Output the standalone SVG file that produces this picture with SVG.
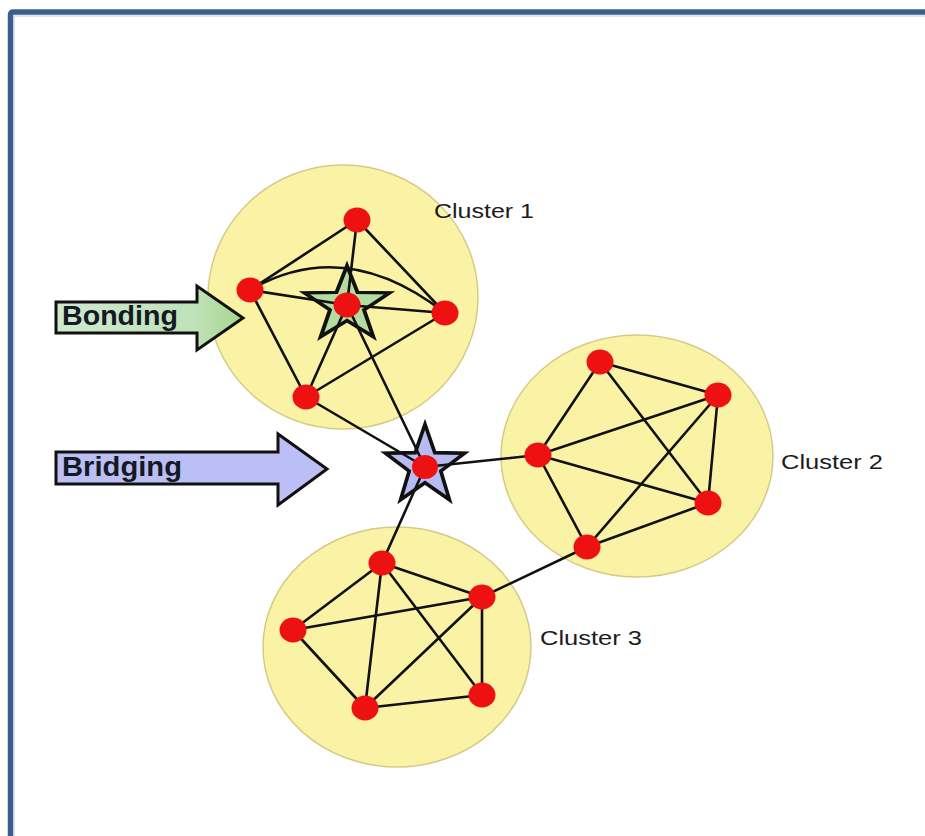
<svg xmlns="http://www.w3.org/2000/svg" xmlns:xlink="http://www.w3.org/1999/xlink" width="925" height="836" viewBox="0 0 925 836">
<style>
.cl{fill:#faf3a6;stroke:#d4cc86;stroke-width:1.5}
.e{stroke:#111;stroke-width:2.6;fill:none;stroke-linecap:round}
.n{fill:#ee1111}
.lbl{font-family:"Liberation Sans",Arial,sans-serif;font-size:21px;fill:#1c1c1c}
.big{font-family:"Liberation Sans",Arial,sans-serif;font-size:27px;font-weight:bold;fill:#141a24}
.star{stroke:#111;stroke-width:3.5;stroke-linejoin:miter}
.arr{stroke:#111;stroke-width:3;stroke-linejoin:miter}
</style>
<defs>
<linearGradient id="gB" x1="0" y1="0" x2="1" y2="0">
<stop offset="0" stop-color="#cfe9cf"/>
<stop offset="0.75" stop-color="#bfe2b8"/>
<stop offset="1" stop-color="#a6d58c"/>
</linearGradient>
<polygon id="starShape" points="0,-40 9.4,-12.9 38,-12.4 15.2,4.9 23.5,32.4 0,16 -23.5,32.4 -15.2,4.9 -38,-12.4 -9.4,-12.9"/>
</defs>
<rect width="925" height="836" fill="#ffffff"/>
<g id="frame">
<path d="M10.5,836 V15 Q10.5,12 13.5,12 H925" fill="none" stroke="#3a5f8f" stroke-width="5.5"/>
<path d="M14,836 V16 H925" fill="none" stroke="#bccbdd" stroke-width="1"/>
</g>

<g id="cluster1"><ellipse class="cl" cx="343" cy="297" rx="135" ry="132"/></g>
<g id="cluster2"><ellipse class="cl" cx="637" cy="456" rx="136" ry="121"/></g>
<g id="cluster3"><ellipse class="cl" cx="397" cy="647" rx="134" ry="120"/></g>

<g id="bonding-arrow">
<polygon class="arr" fill="url(#gB)" points="56,302 197,302 197,286 243,318 197,350 197,333 56,333"/>
<text class="big" x="62" y="325" textLength="116" lengthAdjust="spacingAndGlyphs">Bonding</text>
</g>
<g id="bridging-arrow">
<polygon class="arr" fill="#bcbff5" points="56,452 278,452 278,434 327,469 278,505 278,484 56,484"/>
<text class="big" x="62" y="476" textLength="120" lengthAdjust="spacingAndGlyphs">Bridging</text>
</g>

<g id="bonding-star"><use xlink:href="#starShape" href="#starShape" class="star" fill="#b4dca0" transform="translate(347,305) scale(1.12,0.98)" style="vector-effect:non-scaling-stroke"/></g>
<g id="bridging-star"><use xlink:href="#starShape" href="#starShape" class="star" fill="#b8bbf2" transform="translate(425,466) scale(1.04,1.04)" style="vector-effect:non-scaling-stroke"/></g>

<g id="connectors">
<!-- cluster 1 -->
<line class="e" x1="357" y1="220" x2="250" y2="290"/>
<line class="e" x1="357" y1="220" x2="347" y2="305"/>
<line class="e" x1="357" y1="220" x2="445" y2="313"/>
<path class="e" d="M250,290 Q345,235 445,313"/>
<line class="e" x1="250" y1="290" x2="347" y2="305"/>
<line class="e" x1="347" y1="305" x2="445" y2="313"/>
<line class="e" x1="250" y1="290" x2="306" y2="397"/>
<line class="e" x1="306" y1="397" x2="347" y2="305"/>
<line class="e" x1="306" y1="397" x2="445" y2="313"/>
<!-- bridges -->
<line class="e" x1="347" y1="305" x2="425" y2="467" stroke-width="2.2"/>
<line class="e" x1="306" y1="397" x2="425" y2="467" stroke-width="2.2"/>
<line class="e" x1="425" y1="467" x2="538" y2="455" stroke-width="2.2"/>
<line class="e" x1="425" y1="467" x2="382" y2="563" stroke-width="2.2"/>
<line class="e" x1="482" y1="597" x2="587" y2="547" stroke-width="2.2"/>
<!-- cluster 2 -->
<line class="e" x1="600" y1="362" x2="538" y2="455"/>
<line class="e" x1="600" y1="362" x2="718" y2="395"/>
<line class="e" x1="600" y1="362" x2="708" y2="503"/>
<line class="e" x1="538" y1="455" x2="718" y2="395"/>
<line class="e" x1="538" y1="455" x2="708" y2="503"/>
<line class="e" x1="538" y1="455" x2="587" y2="547"/>
<line class="e" x1="718" y1="395" x2="708" y2="503"/>
<line class="e" x1="718" y1="395" x2="587" y2="547"/>
<line class="e" x1="708" y1="503" x2="587" y2="547"/>
<!-- cluster 3 -->
<line class="e" x1="382" y1="563" x2="293" y2="630"/>
<line class="e" x1="382" y1="563" x2="482" y2="597"/>
<line class="e" x1="382" y1="563" x2="365" y2="708"/>
<line class="e" x1="382" y1="563" x2="482" y2="695"/>
<line class="e" x1="293" y1="630" x2="482" y2="597"/>
<line class="e" x1="293" y1="630" x2="365" y2="708"/>
<line class="e" x1="482" y1="597" x2="365" y2="708"/>
<line class="e" x1="482" y1="597" x2="482" y2="695"/>
<line class="e" x1="365" y1="708" x2="482" y2="695"/>
</g>

<g id="c1-top"><ellipse class="n" cx="357" cy="220" rx="13.5" ry="12.5"/></g>
<g id="c1-left"><ellipse class="n" cx="250" cy="290" rx="13.5" ry="12.5"/></g>
<g id="c1-center"><ellipse class="n" cx="347" cy="305" rx="13.5" ry="12.5"/></g>
<g id="c1-right"><ellipse class="n" cx="445" cy="313" rx="13.5" ry="12.5"/></g>
<g id="c1-bottom"><ellipse class="n" cx="306" cy="397" rx="13.5" ry="12.5"/></g>
<g id="bridge"><ellipse class="n" cx="425" cy="467" rx="13" ry="12"/></g>
<g id="c2-top"><ellipse class="n" cx="600" cy="362" rx="13.5" ry="12.5"/></g>
<g id="c2-right-top"><ellipse class="n" cx="718" cy="395" rx="13.5" ry="12.5"/></g>
<g id="c2-left"><ellipse class="n" cx="538" cy="455" rx="13.5" ry="12.5"/></g>
<g id="c2-right-bottom"><ellipse class="n" cx="708" cy="503" rx="13.5" ry="12.5"/></g>
<g id="c2-bottom"><ellipse class="n" cx="587" cy="547" rx="13.5" ry="12.5"/></g>
<g id="c3-top"><ellipse class="n" cx="382" cy="563" rx="13.5" ry="12.5"/></g>
<g id="c3-right-top"><ellipse class="n" cx="482" cy="597" rx="13.5" ry="12.5"/></g>
<g id="c3-left"><ellipse class="n" cx="293" cy="630" rx="13.5" ry="12.5"/></g>
<g id="c3-bottom-left"><ellipse class="n" cx="365" cy="708" rx="13.5" ry="12.5"/></g>
<g id="c3-bottom-right"><ellipse class="n" cx="482" cy="695" rx="13.5" ry="12.5"/></g>

<g id="labels">
<text class="lbl" x="434" y="218" textLength="100" lengthAdjust="spacingAndGlyphs">Cluster 1</text>
<text class="lbl" x="781" y="469" textLength="102" lengthAdjust="spacingAndGlyphs">Cluster 2</text>
<text class="lbl" x="540" y="645" textLength="102" lengthAdjust="spacingAndGlyphs">Cluster 3</text>
</g>
</svg>
